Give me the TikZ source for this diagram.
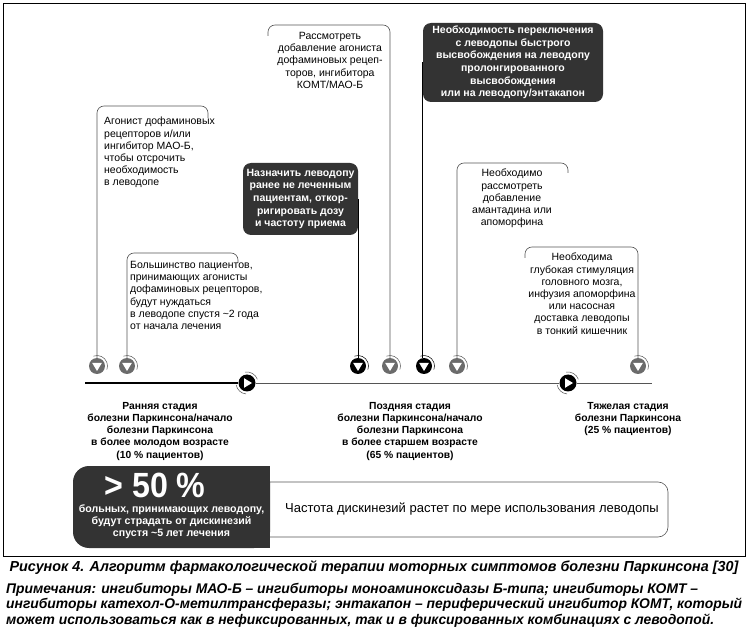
\documentclass[tikz,border=0pt]{standalone}
\usepackage{fontspec}
\setmainfont{Liberation Sans}
\newfontfamily\capfont[FakeStretch=0.99]{Liberation Sans}
\newfontfamily\narrowfont[FakeStretch=0.92]{Liberation Sans}
\usetikzlibrary{calc}

\definecolor{boxfill}{HTML}{333333}
\definecolor{markgrey}{HTML}{6B6B6B}
\definecolor{linegrey}{HTML}{555555}

\tikzset{
  downdot/.style={circle, fill=#1, minimum size=16pt, inner sep=0pt,
    path picture={\fill[white] ($(path picture bounding box.center)+(-4.8pt,3pt)$)
      -- ($(path picture bounding box.center)+(4.8pt,3pt)$)
      -- ($(path picture bounding box.center)+(0,-5pt)$) -- cycle;}},
  playdot/.style={circle, fill=black, minimum size=17pt, inner sep=0pt,
    path picture={\fill[white] ($(path picture bounding box.center)+(-3pt,4.8pt)$)
      -- ($(path picture bounding box.center)+(5pt,0)$)
      -- ($(path picture bounding box.center)+(-3pt,-4.8pt)$) -- cycle;}},
  bline/.style={linegrey, line width=0.6pt, rounded corners=7pt},
  txt/.style={font=\fontsize{10.5}{12.2}\selectfont, inner sep=0pt},
  darknote/.style={fill=boxfill, rounded corners=8pt, text=white, align=center,
    font=\fontsize{10.5}{12.6}\selectfont\bfseries, inner sep=0pt},
  stage/.style={font=\fontsize{10.3}{12.2}\selectfont\bfseries, align=center, inner sep=0pt},
}

\begin{document}
\begin{tikzpicture}[x=1pt, y=-1pt]
  \useasboundingbox (0,0) rectangle (748,631);
  \draw[line width=0.9pt] (3,3) rectangle (745,556);

  % time line
  \coordinate (tstart) at (85,383);
  \coordinate (tend) at (652,383);
  \node[playdot] (t1) at (247,383) {};
  \node[playdot] (t2) at (568,383) {};
  \draw[line width=1.3pt] (tstart) -- (t1);
  \draw[linegrey, line width=0.7pt] (t1) -- (t2) -- (tend);
  \foreach \t in {t1,t2} {
    \draw[linegrey, line width=0.5pt] (\t) ++(265:11pt) arc[start angle=265, end angle=190, radius=11pt];
    \draw[linegrey, line width=0.5pt] (\t) ++(100:11pt) arc[start angle=100, end angle=20, radius=11pt];
  }

  % markers
  \node[downdot=markgrey] (m1) at (97,366) {};
  \node[downdot=markgrey] (m2) at (127,366) {};
  \node[downdot=black]    (m3) at (358,366) {};
  \node[downdot=markgrey] (m4) at (390,366) {};
  \node[downdot=black]    (m5) at (424,366) {};
  \node[downdot=markgrey] (m6) at (457,366) {};
  \node[downdot=markgrey] (m7) at (638,366) {};
  \foreach \m in {m1,m2,m4,m6,m7}
    \draw[linegrey, line width=0.5pt] (\m) ++(110:10.5pt) arc[start angle=110, end angle=-20, radius=10.5pt];
  \foreach \m in {m3,m5}
    \draw[line width=0.5pt] (\m) ++(110:10.5pt) arc[start angle=110, end angle=-20, radius=10.5pt];

  % open boxes
  \coordinate (b1r) at (208,106);
  \coordinate (b2r) at (238,253);
  \coordinate (b3l) at (268,25);
  \coordinate (b6r) at (568,163);
  \coordinate (b7l) at (525,247);
  \draw[bline] (m1.north) -- (m1.north |- b1r) -- (b1r) -- ++(0,12);
  \draw[bline] (m2.north) -- (m2.north |- b2r) -- (b2r) -- ++(0,10);
  \draw[bline] ($(b3l)+(0,11)$) -- (b3l) -- (m4.north |- b3l) -- (m4.north);
  \draw[bline] (m6.north) -- (m6.north |- b6r) -- (b6r) -- ++(0,10);
  \draw[bline] ($(b7l)+(0,11)$) -- (b7l) -- (m7.north |- b7l) -- (m7.north);

  \node[txt, anchor=north west, align=left] (b1) at (104,117)
    {Агонист дофаминовых\\рецепторов и/или\\ингибитор МАО-Б,\\чтобы отсрочить\\необходимость\\в леводопе};
  \node[txt, anchor=north west, align=left] (b2) at (130,261)
    {Большинство пациентов,\\принимающих агонисты\\дофаминовых рецепторов,\\будут нуждаться\\в леводопе спустя \textasciitilde2 года\\от начала лечения};
  \node[txt, anchor=north, align=center] (b3) at (330,32)
    {Рассмотреть\\добавление агониста\\дофаминовых рецеп-\\торов, ингибитора\\КОМТ/МАО-Б};
  \node[txt, anchor=north, align=center] (b6) at (512,169)
    {Необходимо\\рассмотреть\\добавление\\амантадина или\\апоморфина};
  \node[txt, anchor=north, align=center] (b7) at (582,253)
    {Необходима\\глубокая стимуляция\\головного мозга,\\инфузия апоморфина\\или насосная\\доставка леводопы\\в тонкий кишечник};

  % dark boxes
  \node[darknote, minimum width=115pt, minimum height=72pt] (d4) at (300.5,199)
    {Назначить леводопу\\ранее не леченным\\пациентам, откор-\\ригировать дозу\\и частоту приема};
  \node[darknote, minimum width=180pt, minimum height=79pt] (d5) at (513,62.5)
    {Необходимость переключения\\с леводопы быстрого\\высвобождения на леводопу\\пролонгированного\\высвобождения\\или на леводопу/энтакапон};
  \draw[line width=0.9pt] (d4.east) -- (d4.east |- m3.north);
  \draw[line width=0.9pt] (d5.west) -- (d5.west |- m5.north);

  % stages
  \node[stage, anchor=north] (s1) at (160,402)
    {Ранняя стадия\\болезни Паркинсона/начало\\болезни Паркинсона\\в более молодом возрасте\\(10 \% пациентов)};
  \node[stage, anchor=north] (s2) at (410,402)
    {Поздняя стадия\\болезни Паркинсона/начало\\болезни Паркинсона\\в более старшем возрасте\\(65 \% пациентов)};
  \node[stage, anchor=north] (s3) at (628,402)
    {Тяжелая стадия\\болезни Паркинсона\\(25 \% пациентов)};

  % dyskinesia
  \draw[bline, rounded corners=10pt] (270,482) -- (668,482) -- (668,537) -- (270,537);
  \node[fill=boxfill, rounded corners=16pt, minimum width=197pt, minimum height=82pt, inner sep=0pt] (big) at (171.5,507) {};
  \fill[boxfill] (big.north) rectangle (big.south east);
  \node[text=white, inner sep=0pt, font=\narrowfont\bfseries\fontsize{35}{36}\selectfont] (pct) at (155,485) {> 50 \%};
  \node[text=white, inner sep=0pt, align=center, font=\fontsize{10.6}{12}\selectfont\bfseries, anchor=north] (pcttxt) at (171.5,504.5)
    {больных, принимающих леводопу,\\будут страдать от дискинезий\\спустя \textasciitilde5 лет лечения};
  \node[inner sep=0pt, font=\fontsize{13}{14}\selectfont] (dys) at (472,509)
    {Частота дискинезий растет по мере использования леводопы};

  % caption
  \node[inner sep=0pt, font=\capfont\bfseries\itshape\fontsize{14.5}{16}\selectfont] (cap) at (374,568)
    {Рисунок 4. Алгоритм фармакологической терапии моторных симптомов болезни Паркинсона [30]};
  \node[inner sep=0pt, anchor=north west, align=left, font=\capfont\bfseries\itshape\fontsize{14}{15.4}\selectfont] (notes) at (6,583)
    {Примечания: ингибиторы МАО-Б – ингибиторы моноаминоксидазы Б-типа; ингибиторы КОМТ –\\ингибиторы катехол-О-метилтрансферазы; энтакапон – периферический ингибитор КОМТ, который\\может использоваться как в нефиксированных, так и в фиксированных комбинациях с леводопой.};
\end{tikzpicture}
\end{document}
